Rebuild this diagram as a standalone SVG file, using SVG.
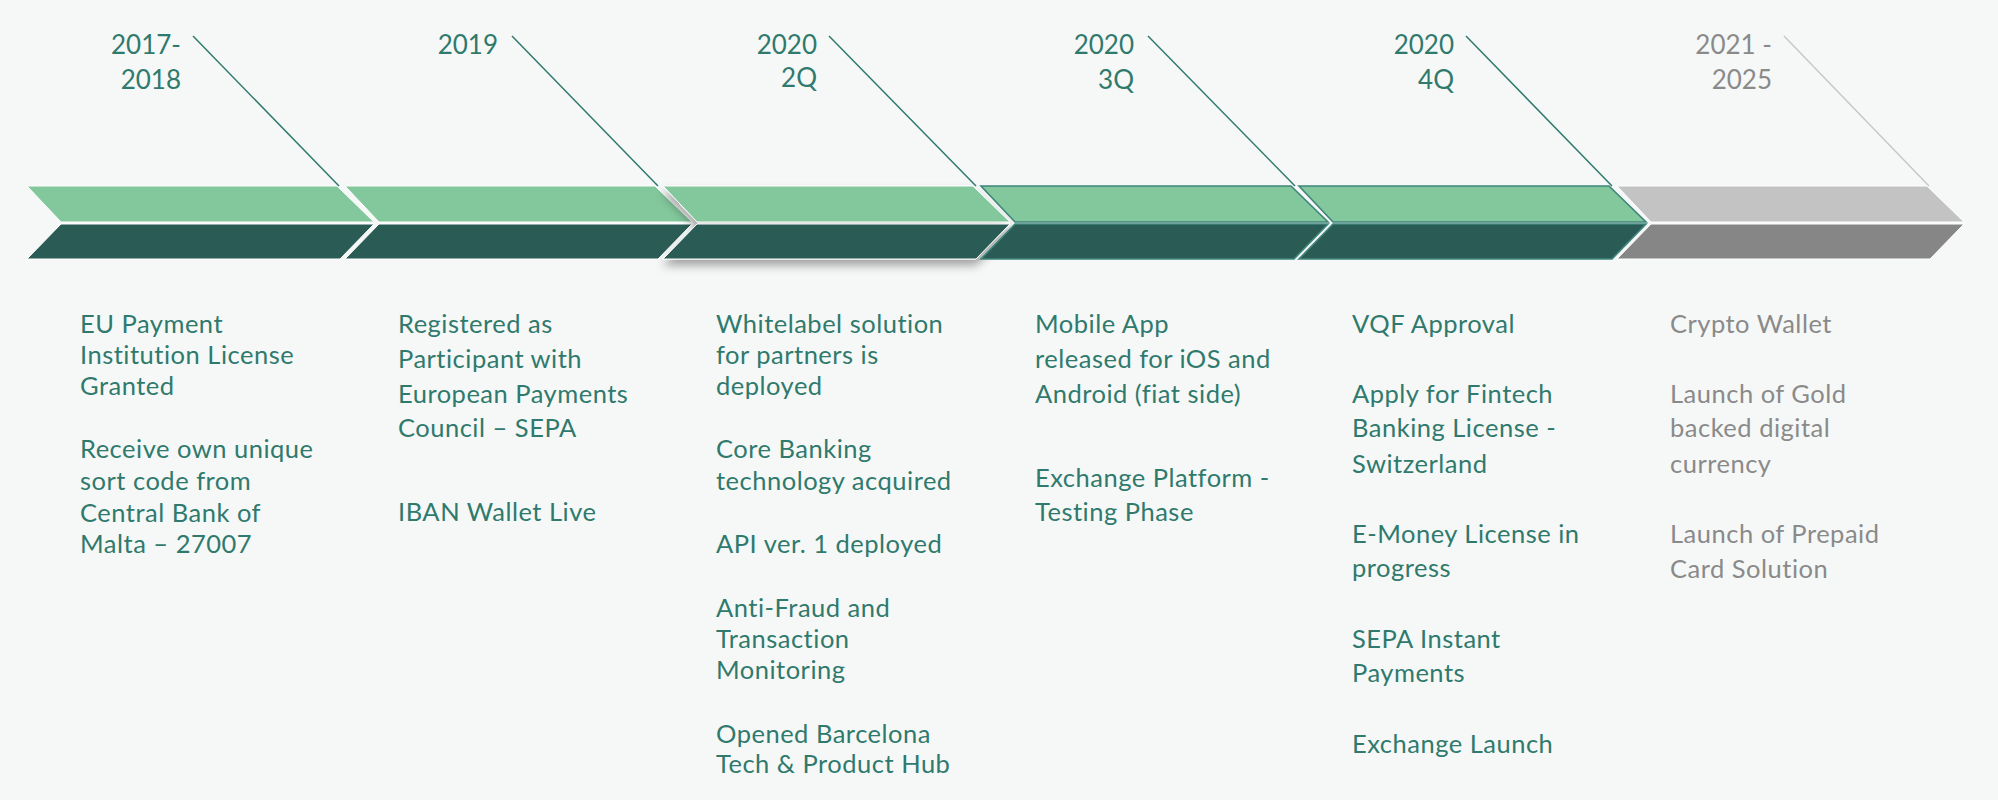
<svg xmlns="http://www.w3.org/2000/svg" xmlns:xlink="http://www.w3.org/1999/xlink" width="1998" height="800" viewBox="0 0 1998 800">
<style>
.bg{fill:#f6f8f7}
.lg{fill:#83c79c;stroke:#ffffff;stroke-width:1}
.dk{fill:#2b5b55;stroke:#ffffff;stroke-width:1}
.lgo{fill:#83c79c;stroke:#3f857b;stroke-width:1.6}
.dko{fill:#2b5b55;stroke:#3f857b;stroke-width:1.6}
.glg{fill:#c3c3c3;stroke:#ffffff;stroke-width:1}
.gdk{fill:#868686;stroke:#ffffff;stroke-width:1}
.yr{font-family:Lato,"Noto Sans",sans-serif;font-size:26px;fill:#2f7a6d;text-anchor:end}
.yrg{font-family:Lato,"Noto Sans",sans-serif;font-size:26px;fill:#8a8a8a;text-anchor:end}
.tx{font-family:Lato,"Noto Sans",sans-serif;font-size:25.5px;letter-spacing:0.5px;fill:#2f7a6d}
.txg{font-family:Lato,"Noto Sans",sans-serif;font-size:25.5px;letter-spacing:0.5px;fill:#8a8a8a}
.ld{stroke:#2f7a6d;stroke-width:1.5;fill:none}
.ldg{stroke:#c8c8c8;stroke-width:1.5;fill:none}
</style>
<defs>
<polygon id="top" points="0,186 310,186 347,222 34,222"/>
<polygon id="bot" points="34,224 347,224 313,259 0,259"/>
<filter id="sh" x="-10%" y="-30%" width="120%" height="180%">
<feDropShadow dx="0" dy="6" stdDeviation="5" flood-color="#000" flood-opacity="0.35"/>
</filter>
</defs>
<rect class="bg" x="0" y="0" width="1998" height="800"/>

<g id="connectors">
<line class="ld" x1="193" y1="36" x2="339" y2="186"/>
<line class="ld" x1="512" y1="36" x2="658" y2="186"/>
<line class="ld" x1="829" y1="36" x2="976" y2="186"/>
<line class="ld" x1="1148" y1="36" x2="1295" y2="186"/>
<line class="ld" x1="1466" y1="36" x2="1612" y2="186"/>
<line class="ldg" x1="1784" y1="36" x2="1929" y2="186"/>
</g>

<g id="n2017">
<use xlink:href="#top" class="lg" transform="translate(27,0)"/>
<use xlink:href="#bot" class="dk" transform="translate(27,0)"/>
<text class="yr"><tspan x="181" y="54">2017-</tspan><tspan x="181" y="89">2018</tspan></text>
<text class="tx"><tspan x="80" y="333">EU Payment</tspan><tspan x="80" y="364">Institution License</tspan><tspan x="80" y="395">Granted</tspan><tspan x="80" y="458">Receive own unique</tspan><tspan x="80" y="490">sort code from</tspan><tspan x="80" y="522">Central Bank of</tspan><tspan x="80" y="553">Malta – 27007</tspan></text>
</g>

<g id="n2019">
<use xlink:href="#top" class="lg" transform="translate(345,0)"/>
<use xlink:href="#bot" class="dk" transform="translate(345,0)"/>
<text class="yr"><tspan x="498" y="54">2019</tspan></text>
<text class="tx"><tspan x="398" y="333">Registered as</tspan><tspan x="398" y="368">Participant with</tspan><tspan x="398" y="403">European Payments</tspan><tspan x="398" y="437">Council – SEPA</tspan><tspan x="398" y="521">IBAN Wallet Live</tspan></text>
</g>

<g id="n2020q2">
<g filter="url(#sh)">
<use xlink:href="#top" class="lg" transform="translate(663,0)"/>
<use xlink:href="#bot" class="dk" transform="translate(663,0)"/>
</g>
<text class="yr"><tspan x="817" y="54">2020</tspan><tspan x="817" y="87">2Q</tspan></text>
<text class="tx"><tspan x="716" y="333">Whitelabel solution</tspan><tspan x="716" y="364">for partners is</tspan><tspan x="716" y="395">deployed</tspan><tspan x="716" y="458">Core Banking</tspan><tspan x="716" y="490">technology acquired</tspan><tspan x="716" y="553">API ver. 1 deployed</tspan><tspan x="716" y="617">Anti-Fraud and</tspan><tspan x="716" y="648">Transaction</tspan><tspan x="716" y="679">Monitoring</tspan><tspan x="716" y="743">Opened Barcelona</tspan><tspan x="716" y="773">Tech &amp; Product Hub</tspan></text>
</g>

<g id="n2020q3">
<use xlink:href="#top" class="lgo" transform="translate(981,0)"/>
<use xlink:href="#bot" class="dko" transform="translate(981,0)"/>
<text class="yr"><tspan x="1134" y="54">2020</tspan><tspan x="1134" y="89">3Q</tspan></text>
<text class="tx"><tspan x="1035" y="333">Mobile App</tspan><tspan x="1035" y="368">released for iOS and</tspan><tspan x="1035" y="403">Android (fiat side)</tspan><tspan x="1035" y="487">Exchange Platform -</tspan><tspan x="1035" y="521">Testing Phase</tspan></text>
</g>

<g id="n2020q4">
<use xlink:href="#top" class="lgo" transform="translate(1299,0)"/>
<use xlink:href="#bot" class="dko" transform="translate(1299,0)"/>
<text class="yr"><tspan x="1454" y="54">2020</tspan><tspan x="1454" y="89">4Q</tspan></text>
<text class="tx"><tspan x="1352" y="333">VQF Approval</tspan><tspan x="1352" y="403">Apply for Fintech</tspan><tspan x="1352" y="437">Banking License -</tspan><tspan x="1352" y="473">Switzerland</tspan><tspan x="1352" y="543">E-Money License in</tspan><tspan x="1352" y="577">progress</tspan><tspan x="1352" y="648">SEPA Instant</tspan><tspan x="1352" y="682">Payments</tspan><tspan x="1352" y="753">Exchange Launch</tspan></text>
</g>

<g id="n2021">
<use xlink:href="#top" class="glg" transform="translate(1617,0)"/>
<use xlink:href="#bot" class="gdk" transform="translate(1617,0)"/>
<text class="yrg"><tspan x="1772" y="54">2021 -</tspan><tspan x="1772" y="89">2025</tspan></text>
<text class="txg"><tspan x="1670" y="333">Crypto Wallet</tspan><tspan x="1670" y="403">Launch of Gold</tspan><tspan x="1670" y="437">backed digital</tspan><tspan x="1670" y="473">currency</tspan><tspan x="1670" y="543">Launch of Prepaid</tspan><tspan x="1670" y="578">Card Solution</tspan></text>
</g>
</svg>
